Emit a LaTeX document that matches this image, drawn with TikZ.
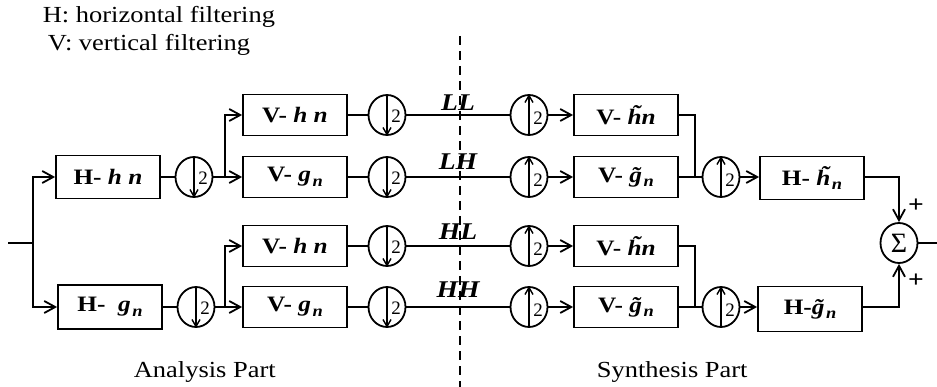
\documentclass[tikz,border=0pt]{standalone}
\usepackage{fontspec}
\setmainfont{Liberation Serif}[FakeStretch=1.15]
\newfontfamily\plainserif{Liberation Serif}
\usetikzlibrary{shapes.geometric,arrows.meta}
\newcommand{\bi}[1]{\textbf{\textit{#1}}}
\newcommand{\tld}[1]{{\accent"02DC #1}}
\newcommand{\sbn}[1]{\kern1.5pt\raisebox{-0.45ex}{\fontsize{16}{16}\selectfont\bfseries\itshape #1}}
\newcommand{\dnring}[1]{%
  \draw[-{Straight Barb[length=7pt,width=8pt]}, line width=1.4pt] (#1.north) -- (#1.south);
  \node[font=\plainserif\fontsize{19}{19}\selectfont, inner sep=0pt] at ([xshift=9pt,yshift=-1pt]#1.center) {2};}
\newcommand{\upring}[1]{%
  \draw[-{Straight Barb[length=7pt,width=8pt]}, line width=1.4pt] (#1.south) -- (#1.north);
  \node[font=\plainserif\fontsize{19}{19}\selectfont, inner sep=0pt] at ([xshift=9pt,yshift=-3pt]#1.center) {2};}
\begin{document}
\begin{tikzpicture}[x=1pt,y=-1pt, line width=1.8pt,
  box/.style={draw, minimum width=104pt, minimum height=41pt, inner sep=0pt, font=\fontsize{22}{24}\selectfont},
  ring/.style={draw, ellipse, minimum width=37pt, minimum height=40pt, inner sep=0pt},
  arr/.style={-{Straight Barb[length=11pt,width=12pt]}},
  band/.style={font=\fontsize{24}{24}\selectfont\bfseries\itshape, inner sep=0pt},
  note/.style={font=\fontsize{23}{26}\selectfont, anchor=west, inner sep=0pt},
  plus/.style={font=\fontsize{24}{24}\selectfont\bfseries, inner sep=0pt}]
\useasboundingbox (0,0) rectangle (937,387);

% texts
\node[note] (t1) at (42,17) {H: horizontal filtering};
\node[note] (t2) at (47,45) {V: vertical filtering};
\node[note] (t3) at (133,372) {Analysis Part};
\node[note] (t4) at (596,372) {Synthesis Part};

% separator
\coordinate (sepT) at (460,36);
\coordinate (sepB) at (460,387);
\draw[line width=1.4pt, dash pattern=on 9pt off 6pt] (sepT) -- (sepB);

% analysis, level 1
\coordinate (in) at (8,243);
\coordinate (sp1) at (33,243);
\node[box, minimum height=43pt] (Hh) at (108,177) {\textbf{H-} \bi{h n}};
\node[box, minimum height=44pt] (Hg) at (110,307) {\textbf{H-}\ \ \bi{g}\sbn{n}};
\node[ring] (d1) at (194,177) {};
\node[ring] (d2) at (196,307) {};
\coordinate (s1) at (225,177);
\coordinate (s2) at (225,307);

% analysis, level 2
\node[box] (Vh1) at (295,115) {\textbf{V-} \bi{h n}};
\node[box] (Vg1) at (295,177) {\textbf{V-} \bi{g}\sbn{n}};
\node[box] (Vh2) at (295,246) {\textbf{V-} \bi{h n}};
\node[box] (Vg2) at (295,307) {\textbf{V-} \bi{g}\sbn{n}};
\node[ring] (e1) at (387,115) {};
\node[ring] (e2) at (387,177) {};
\node[ring] (e3) at (387,246) {};
\node[ring] (e4) at (387,307) {};

% bands
\node[band] (LL) at (458,103) {LL};
\node[band] (LH) at (458,162) {LH};
\node[band] (HL) at (458,232) {HL};
\node[band] (HH) at (458,290) {HH};

% synthesis, level 2
\node[ring] (u1) at (529,115) {};
\node[ring] (u2) at (529,177) {};
\node[ring] (u3) at (529,246) {};
\node[ring] (u4) at (529,307) {};
\node[box] (Sh1) at (626,115) {\textbf{V-}\ \bi{\tld{h}n}};
\node[box] (Sg1) at (626,177) {\textbf{V-}\ \bi{\tld{g}}\sbn{n}};
\node[box] (Sh2) at (626,246) {\textbf{V-}\ \bi{\tld{h}n}};
\node[box] (Sg2) at (626,307) {\textbf{V-}\ \bi{\tld{g}}\sbn{n}};
\coordinate (j1) at (695,177);
\coordinate (j2) at (695,307);

% synthesis, level 1
\node[ring] (m1) at (721,177) {};
\node[ring] (m2) at (721,307) {};
\node[box, minimum height=43pt] (Ht) at (812,178) {\textbf{H-} \bi{\tld{h}}\sbn{n}};
\node[box, minimum height=45pt] (Gt) at (810,309) {\textbf{H-}\bi{\tld{g}}\sbn{n}};
\node[ring] (sum) at (899,243) {};
\node[font=\plainserif\fontsize{28}{28}\selectfont, inner sep=0pt] (sig) at (sum.center) {Σ};
\coordinate (out) at (937,243);
\node[plus] (p1) at (916,206) {+};
\node[plus] (p2) at (916,281) {+};

% ring contents
\dnring{d1} \dnring{d2}
\dnring{e1} \dnring{e2} \dnring{e3} \dnring{e4}
\upring{u1} \upring{u2} \upring{u3} \upring{u4}
\upring{m1} \upring{m2}

% connectors
\draw (in) -- (sp1);
\draw[arr] (sp1) |- (Hh.west);
\draw[arr] (sp1) |- (Hg.west);
\draw (Hh) -- (d1);
\draw (Hg.east |- d2) -- (d2);
\draw (d1) -- (s1);
\draw (d2) -- (s2);
\draw[arr] (s1) |- (Vh1.west);
\draw[arr] (s1) -- (Vg1.west);
\draw[arr] (s2) |- (Vh2.west);
\draw[arr] (s2) -- (Vg2.west);
\draw (Vh1) -- (e1);
\draw (Vg1) -- (e2);
\draw (Vh2) -- (e3);
\draw (Vg2) -- (e4);
\draw (e1) -- (u1);
\draw (e2) -- (u2);
\draw (e3) -- (u3);
\draw (e4) -- (u4);
\draw[arr] (u1) -- (Sh1);
\draw[arr] (u2) -- (Sg1);
\draw[arr] (u3) -- (Sh2);
\draw[arr] (u4) -- (Sg2);
\draw (Sh1.east) -| (j1);
\draw (Sh2.east) -| (j2);
\draw (Sg1) -- (m1);
\draw (Sg2) -- (m2);
\draw[arr] (m1) -- (Ht.west |- m1);
\draw[arr] (m2) -- (Gt.west |- m2);
\draw[arr] (Ht.east |- m1) -| (sum.north);
\draw[arr] (Gt.east |- m2) -| (sum.south);
\draw (sum) -- (out);
\end{tikzpicture}
\end{document}
